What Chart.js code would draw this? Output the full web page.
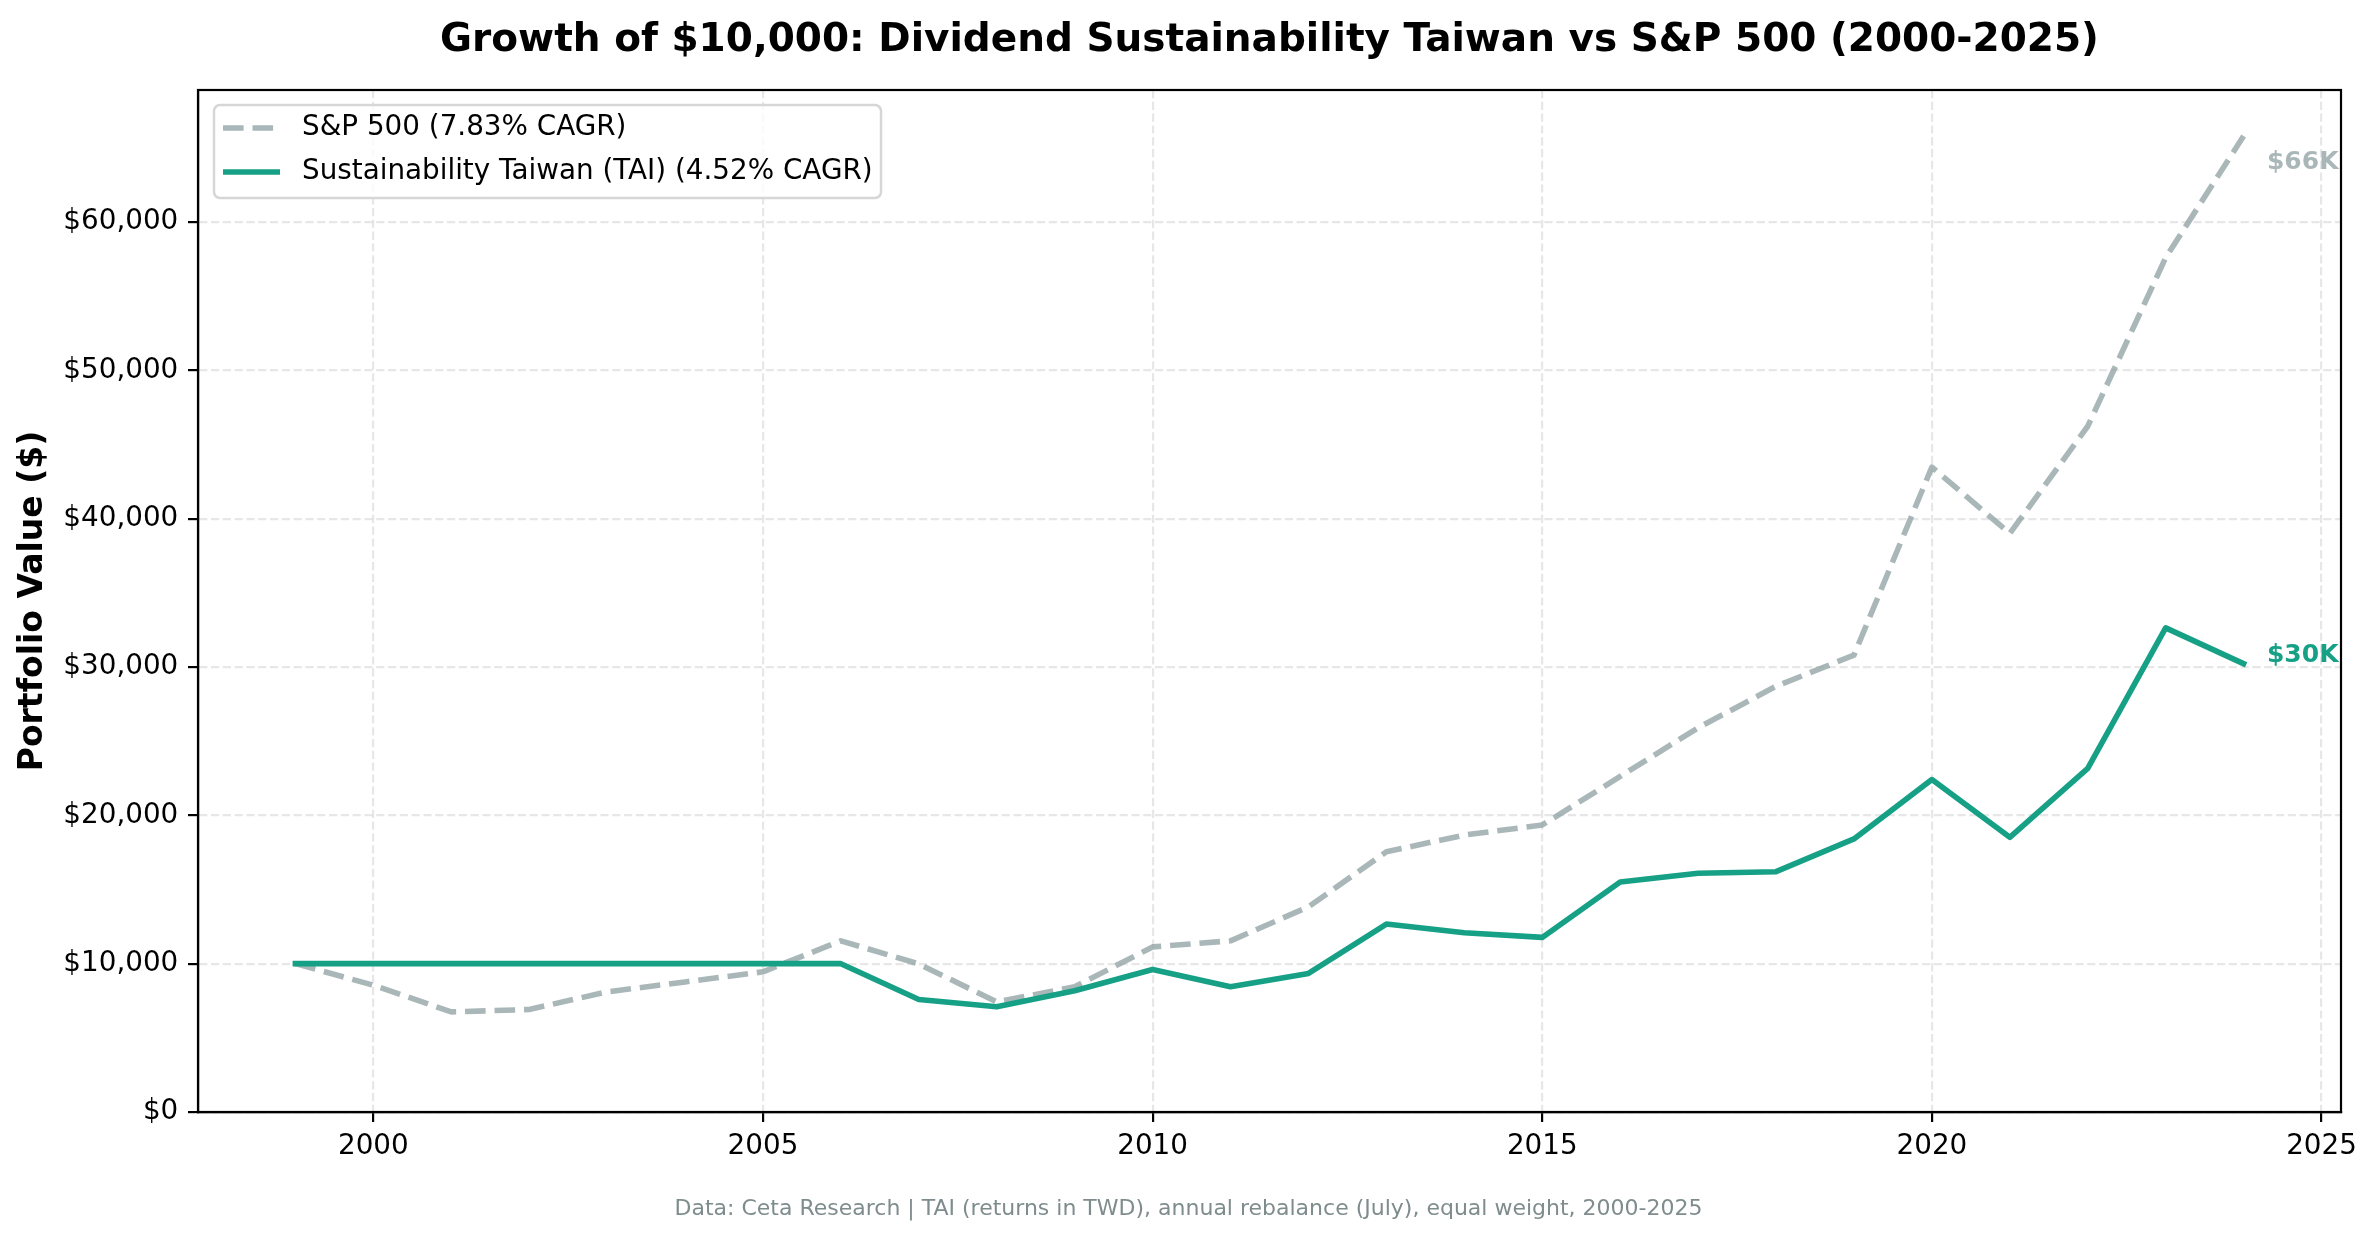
<!DOCTYPE html>
<html>
<head>
<meta charset="utf-8">
<script src="https://cdn.jsdelivr.net/npm/chart.js@4.4.1/dist/chart.umd.min.js"></script>
<style>
    html, body { margin: 0; padding: 0; background: #fff; }
    canvas { display: block; }
</style>
</head>
<body>
<canvas id="growthChart" width="2377" height="1239"></canvas>
<script>
const years = [1999, 2000, 2001, 2002, 2003, 2004, 2005, 2006, 2007, 2008, 2009, 2010, 2011,
    2012, 2013, 2014, 2015, 2016, 2017, 2018, 2019, 2020, 2021, 2022, 2023, 2024];

const spValues = [10000, 8550, 6750, 6910, 8100, 8770, 9450, 11540, 9980, 7420, 8440, 11130, 11540,
    13830, 17540, 18670, 19350, 22620, 25900, 28700, 30800, 43480, 39000, 46230, 57590, 65800];

const taiValues = [10000, 10000, 10000, 10000, 10000, 10000, 10000, 10000, 7580, 7090, 8170, 9610, 8440,
    9340, 12670, 12080, 11770, 15500, 16100, 16200, 18410, 22410, 18520, 23160, 32640, 30220];

const xTicks = [2000, 2005, 2010, 2015, 2020, 2025];
const yTicks = [0, 10000, 20000, 30000, 40000, 50000, 60000];

const spLabel = 'S&P 500 (7.83% CAGR)';
const taiLabel = 'Sustainability Taiwan (TAI) (4.52% CAGR)';
const endLabels = ['$66K', '$30K'];
const titleText = 'Growth of $10,000: Dividend Sustainability Taiwan vs S&P 500 (2000-2025)';
const footText = 'Data: Ceta Research | TAI (returns in TWD), annual rebalance (July), equal weight, 2000-2025';

const FONT = "'DejaVu Sans', sans-serif";
const TAI_COLOR = '#16a085';
const SP_COLOR = 'rgba(149, 165, 166, 0.8)';
const GRID_COLOR = 'rgba(176, 176, 176, 0.3)';

const toPoints = (values) => values.map((v, i) => ({ x: years[i], y: v }));

// legend box, end labels, footnote, spines
const extras = {
    id: 'extras',
    afterDatasetsDraw(chart) {
        const { ctx, chartArea, scales } = chart;

        ctx.save();
        ctx.font = `bold 25px ${FONT}`;
        ctx.textAlign = 'left';
        ctx.textBaseline = 'middle';
        const lastX = scales.x.getPixelForValue(years[years.length - 1] + 0.3);
        ctx.fillStyle = SP_COLOR;
        ctx.fillText(endLabels[0], lastX, scales.y.getPixelForValue(spValues[spValues.length - 1]) + 27);
        ctx.fillStyle = TAI_COLOR;
        ctx.fillText(endLabels[1], lastX, scales.y.getPixelForValue(taiValues[taiValues.length - 1]) - 8);
        ctx.restore();

        // legend, upper left inside the axes
        ctx.save();
        const fx = chartArea.left + 16, fy = chartArea.top + 15;
        ctx.beginPath();
        ctx.roundRect(fx, fy, 667, 93, 6);
        ctx.fillStyle = 'rgba(255, 255, 255, 0.8)';
        ctx.fill();
        ctx.lineWidth = 2.5;
        ctx.strokeStyle = '#d6d6d6';
        ctx.stroke();

        ctx.font = `27.8px ${FONT}`;
        ctx.textAlign = 'left';
        ctx.textBaseline = 'middle';
        chart.data.datasets.forEach((ds, i) => {
            const rowY = chartArea.top + 38 + i * 44;
            ctx.beginPath();
            ctx.setLineDash(ds.borderDash || []);
            ctx.lineCap = ds.borderCapStyle === 'square' ? 'butt' : ds.borderCapStyle;
            ctx.lineWidth = ds.borderWidth;
            ctx.strokeStyle = ds.borderColor;
            ctx.moveTo(chartArea.left + 25, rowY);
            ctx.lineTo(chartArea.left + 82, rowY);
            ctx.stroke();
            ctx.setLineDash([]);
            ctx.fillStyle = '#000';
            ctx.fillText(ds.label, chartArea.left + 104, rowY);
        });
        ctx.restore();
    },
    afterDraw(chart) {
        const { ctx, chartArea } = chart;
        ctx.save();
        ctx.lineWidth = 2.2;
        ctx.strokeStyle = '#000';
        ctx.strokeRect(chartArea.left, chartArea.top, chartArea.right - chartArea.left, chartArea.bottom - chartArea.top);

        ctx.font = `22px ${FONT}`;
        ctx.fillStyle = '#7f8c8d';
        ctx.textAlign = 'center';
        ctx.textBaseline = 'middle';
        ctx.fillText(footText, chart.width / 2, 1209);
        ctx.restore();
    }
};

const createChart = () => {
    const ctx = document.getElementById('growthChart').getContext('2d');
    return new Chart(ctx, {
        type: 'line',
        data: {
            datasets: [{
                label: spLabel,
                data: toPoints(spValues),
                borderColor: SP_COLOR,
                backgroundColor: SP_COLOR,
                borderWidth: 5.6,
                borderDash: [20.6, 8.9],
                borderCapStyle: 'butt',
                borderJoinStyle: 'round',
                pointRadius: 0,
                tension: 0,
                order: 1
            }, {
                label: taiLabel,
                data: toPoints(taiValues),
                borderColor: TAI_COLOR,
                backgroundColor: TAI_COLOR,
                borderWidth: 5.6,
                borderCapStyle: 'square',
                borderJoinStyle: 'round',
                pointRadius: 0,
                tension: 0,
                order: 0
            }]
        },
        options: {
            responsive: false,
            animation: false,
            devicePixelRatio: 1,
            layout: { padding: { top: 0, left: 0, right: 36, bottom: 0 } },
            scales: {
                x: {
                    type: 'linear',
                    min: 1997.75,
                    max: 2025.25,
                    afterBuildTicks: (scale) => { scale.ticks = xTicks.map(v => ({ value: v })); },
                    afterFit: (scale) => { scale.height = 127; },
                    ticks: {
                        color: '#000',
                        padding: 8,
                        font: { family: FONT, size: 27.8 },
                        callback: (v) => String(v)
                    },
                    grid: {
                        color: GRID_COLOR,
                        lineWidth: 2.2,
                        tickColor: '#000',
                        tickLength: 10,
                        tickWidth: 2.2
                    },
                    border: { display: true, color: '#000', width: 2.2, dash: [8.2, 3.6] }
                },
                y: {
                    min: 0,
                    max: 68900,
                    afterBuildTicks: (scale) => { scale.ticks = yTicks.map(v => ({ value: v })); },
                    afterFit: (scale) => { scale.width = 198; },
                    ticks: {
                        color: '#000',
                        padding: 9.7,
                        font: { family: FONT, size: 27.8 },
                        callback: (v) => '$' + v.toLocaleString('en-US')
                    },
                    grid: {
                        color: GRID_COLOR,
                        lineWidth: 2.2,
                        tickColor: '#000',
                        tickLength: 10,
                        tickWidth: 2.2
                    },
                    border: { display: true, color: '#000', width: 2.2, dash: [8.2, 3.6] },
                    title: {
                        display: true,
                        text: 'Portfolio Value ($)',
                        color: '#000',
                        font: { family: FONT, size: 33, weight: 'bold' },
                        padding: { top: 14, bottom: 0 }
                    }
                }
            },
            plugins: {
                title: {
                    display: true,
                    text: titleText,
                    color: '#000',
                    fullSize: false,
                    font: { family: FONT, size: 39, weight: 'bold' },
                    padding: { top: 17.6, bottom: 25.6 }
                },
                legend: { display: false },
                tooltip: { enabled: false }
            }
        },
        plugins: [extras]
    });
};

document.addEventListener('DOMContentLoaded', () => {
    createChart();
});
</script>
</body>
</html>
